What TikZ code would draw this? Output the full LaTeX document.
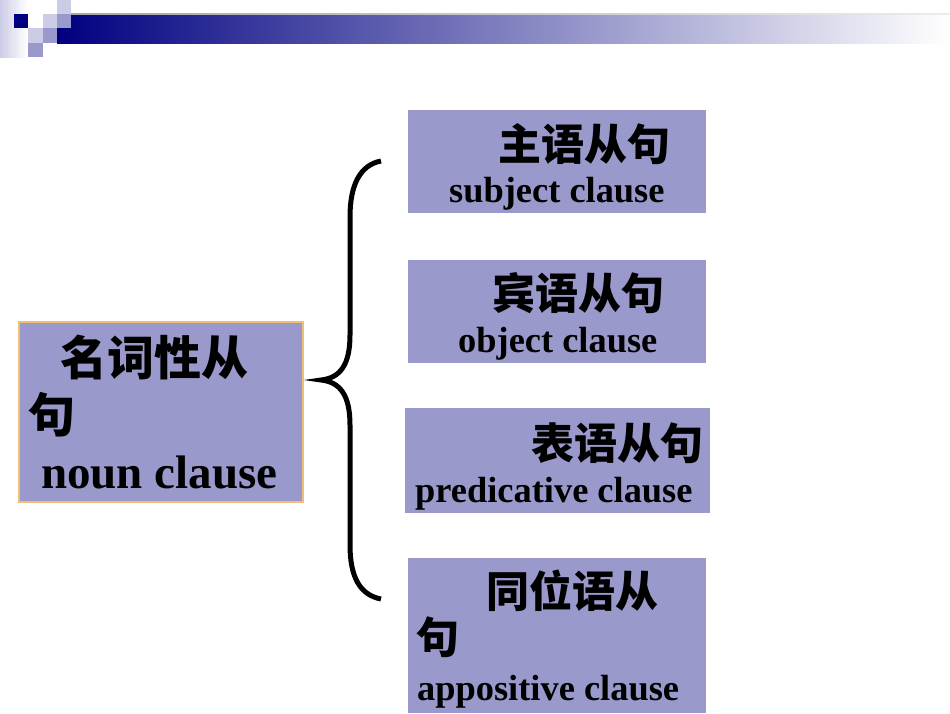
\documentclass[tikz,border=0pt]{standalone}
\usepackage{fontspec}
\setmainfont{Liberation Serif}
\newfontfamily\cjk{Noto Sans CJK SC}
\usetikzlibrary{positioning}
\definecolor{navy}{RGB}{0,0,128}
\definecolor{boxfill}{RGB}{153,153,204}
\definecolor{lightsq}{RGB}{204,204,230}
\definecolor{edgeorange}{RGB}{240,190,120}

\tikzset{
  clausebox/.style={fill=boxfill, inner sep=0pt, anchor=north west},
  cnline/.style={anchor=base west, inner sep=0pt, font=\cjk\bfseries\fontsize{43}{50}\selectfont},
  enline/.style={anchor=base west, inner sep=0pt, font=\bfseries\fontsize{36.4}{42}\selectfont},
}

\begin{document}
\begin{tikzpicture}[x=1pt, y=-1pt]
  \useasboundingbox (0,0) rectangle (950,713);
  % Header bar
  \shade[left color=lightsq, right color=white] (0,0) rectangle (27,57);
  \shade[left color=navy, right color=white] (57,14) rectangle (950,43);
  \shade[left color=gray!70, right color=gray!15] (57,13) rectangle (950,14.5);
  \fill[navy] (14,14) rectangle (28,28);
  \fill[lightsq] (43,14) rectangle (57,28);
  \fill[lightsq] (57,0) rectangle (71,14);
  \fill[boxfill] (57,14) rectangle (71,28);
  \fill[lightsq] (28,28) rectangle (43,43);
  \fill[boxfill] (43,28) rectangle (57,43);
  \fill[boxfill] (28,43) rectangle (43,57);
  % Boxes
  \node[clausebox, draw=edgeorange, line width=1.5pt, minimum width=284pt, minimum height=180pt] (nounbox) at (18,321) {};
  \node[clausebox, minimum width=298pt, minimum height=103pt] (subjbox) at (408,110) {};
  \node[clausebox, minimum width=298pt, minimum height=103pt] (objbox) at (408,260) {};
  \node[clausebox, minimum width=305pt, minimum height=105pt] (predbox) at (405,408) {};
  \node[clausebox, minimum width=298pt, minimum height=155pt] (apposbox) at (408,558) {};
  % Texts
  \node[cnline, font=\cjk\bfseries\fontsize{47}{54}\selectfont] (nouncn) at (60,375) {名词性从};
  \node[cnline, font=\cjk\bfseries\fontsize{47}{54}\selectfont] (nouncnb) at (28,432) {句};
  \node[enline, font=\bfseries\fontsize{47}{54}\selectfont] (nounen) at (41,488) {noun clause};
  \node[cnline] (subjcn) at (498,160) {主语从句};
  \node[enline] (subjen) at (449,202) {subject clause};
  \node[cnline] (objcn) at (492,309) {宾语从句};
  \node[enline] (objen) at (458,352) {object clause};
  \node[cnline] (predcn) at (531,459) {表语从句};
  \node[enline] (preden) at (415,502) {predicative clause};
  \node[cnline] (apposcn) at (486,607) {同位语从};
  \node[cnline] (apposcnb) at (416,653) {句};
  \node[enline] (apposen) at (417,700) {appositive clause};
  % Brace
  \coordinate (bracetip) at (321,380);
  \draw[line width=5pt] (381,161) .. controls (360,165) and (350,185) .. (350,217)
    -- (350,335) .. controls (350,365) and (340,378) .. (bracetip)
    .. controls (340,382) and (350,395) .. (350,425)
    -- (350,545) .. controls (350,577) and (360,595) .. (381,599);
\end{tikzpicture}
\end{document}
